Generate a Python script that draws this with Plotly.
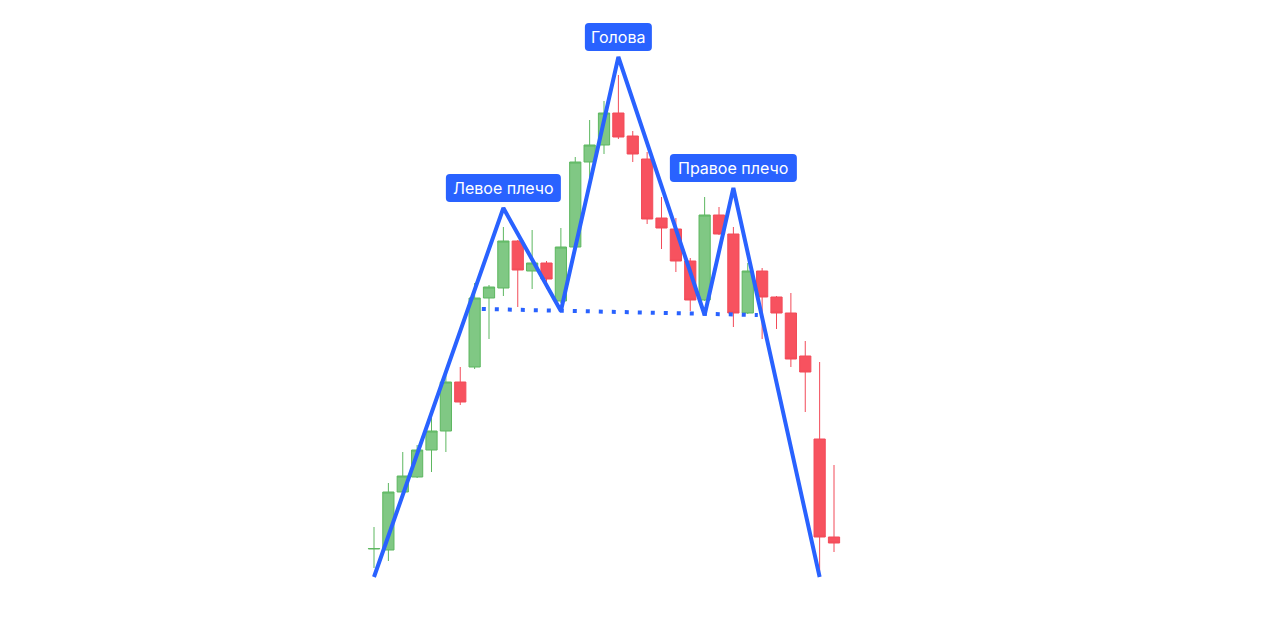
import plotly.graph_objects as go

idx = list(range(33))
open_ = [52.8, 52.7, 58.5, 60.0, 62.7, 64.6, 69.5, 71.0, 77.9, 78.9, 83.6, 80.6, 81.4, 77.6, 83.0, 91.5, 93.2,
         96.4, 94.1, 91.8, 85.9, 84.8, 81.6, 77.7, 86.2, 84.3, 76.4, 80.6, 78.0, 76.4, 72.1, 63.8, 54.0]
high = [55.0, 59.4, 62.5, 63.2, 66.1, 70.5, 71.0, 79.4, 79.2, 85.0, 83.7, 84.7, 81.6, 84.9, 92.0, 95.7, 97.6,
        100.2, 94.6, 92.5, 88.0, 85.9, 81.9, 88.0, 87.0, 85.0, 81.4, 80.9, 78.1, 78.4, 73.6, 71.5, 61.2]
low = [50.9, 51.6, 58.0, 59.9, 60.5, 62.5, 67.2, 70.8, 73.8, 78.1, 77.0, 78.8, 78.8, 77.4, 82.9, 89.4, 92.3,
       93.8, 91.5, 85.3, 82.8, 80.5, 76.6, 77.6, 84.2, 75.0, 76.3, 73.8, 74.8, 71.0, 66.5, 50.0, 52.5]
close = [52.85, 58.5, 60.1, 62.7, 64.6, 69.5, 67.5, 77.9, 79.0, 83.6, 80.7, 81.4, 79.8, 83.0, 91.5, 93.2, 96.4,
         94.0, 92.3, 85.8, 84.9, 81.6, 77.7, 86.2, 84.3, 76.4, 80.6, 78.0, 76.4, 71.8, 70.5, 54.0, 53.4]

# Head and shoulders pattern pivots
pattern_x = [0, 9, 13, 17, 23, 25, 31]
pattern_y = [50.0, 86.9, 76.6, 102.0, 76.2, 88.9, 50.0]

neck_x = [7.5, 26.7]
neck_y = [76.8, 76.2]

labels = ["Левое плечо", "Голова", "Правое плечо"]
label_x = [9, 17, 25]
label_y = [86.9, 102.0, 88.9]
label_w = [115, 67, 127]

BLUE = "#2962FF"


def rounded_box(w, h=28, gap=6, r=4):
    x0, x1 = -w / 2, w / 2
    y0, y1 = gap, gap + h
    return (f"M {x0 + r},{y0} L {x1 - r},{y0} Q {x1},{y0} {x1},{y0 + r} "
            f"L {x1},{y1 - r} Q {x1},{y1} {x1 - r},{y1} "
            f"L {x0 + r},{y1} Q {x0},{y1} {x0},{y1 - r} "
            f"L {x0},{y0 + r} Q {x0},{y0} {x0 + r},{y0} Z")


fig = go.Figure()
fig.add_trace(go.Candlestick(
    x=idx, open=open_, high=high, low=low, close=close,
    increasing=dict(line=dict(color="#5DB760", width=1), fillcolor="#80C884"),
    decreasing=dict(line=dict(color="#F24B59", width=1), fillcolor="#F7525F"),
    showlegend=False, hoverinfo="skip",
))
fig.add_trace(go.Scatter(
    x=neck_x, y=neck_y, mode="lines",
    line=dict(color=BLUE, width=4, dash="4px,9px"),
    showlegend=False, hoverinfo="skip",
))
fig.add_trace(go.Scatter(
    x=pattern_x, y=pattern_y, mode="lines",
    line=dict(color=BLUE, width=4),
    showlegend=False, hoverinfo="skip",
))
for t, lx, ly, w in zip(labels, label_x, label_y, label_w):
    fig.add_shape(
        type="path", xref="x", yref="y", xsizemode="pixel", ysizemode="pixel",
        xanchor=lx, yanchor=ly, path=rounded_box(w),
        fillcolor=BLUE, line=dict(width=0), layer="above",
    )
    fig.add_annotation(
        x=lx, y=ly, text=t, showarrow=False, yanchor="middle", yshift=20,
        font=dict(family="Inter, Roboto, sans-serif", size=16, color="white"),
    )

fig.update_layout(
    width=1248, height=619,
    margin=dict(l=0, r=0, t=0, b=0),
    paper_bgcolor="white", plot_bgcolor="white",
    boxgap=0.22, boxgroupgap=0.0,
    xaxis=dict(range=[-25.461, 61.356], visible=False, rangeslider=dict(visible=False)),
    yaxis=dict(range=[45.0, 106.9], visible=False),
)
fig.write_html("out.html")
